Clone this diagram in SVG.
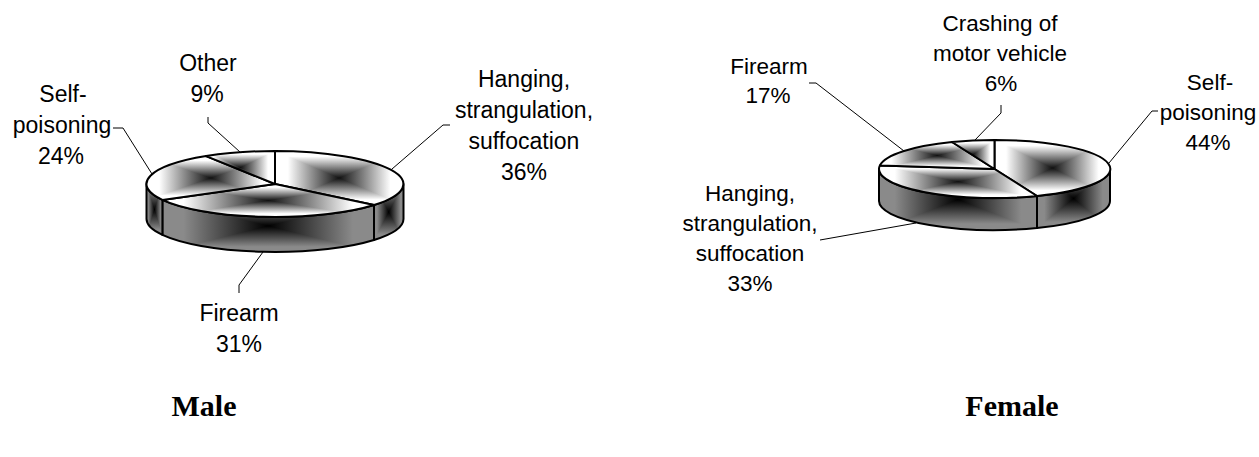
<svg xmlns="http://www.w3.org/2000/svg" width="1259" height="457" viewBox="0 0 1259 457">
<style>
.bg{fill:#fff}
.iso{isolation:isolate}
.lt{mix-blend-mode:lighten}
.ol{fill:none;stroke:#000;stroke-width:2;stroke-linejoin:round}
.ld{fill:none;stroke:#000;stroke-width:1}
.lm{font-family:"Liberation Sans",Arial,sans-serif;font-size:23px;fill:#000;text-anchor:middle}
.lf{font-family:"Liberation Sans",Arial,sans-serif;font-size:22.5px;fill:#000;text-anchor:middle}
.tt{font-family:"Liberation Serif","Times New Roman",serif;font-size:30px;font-weight:bold;fill:#000;text-anchor:middle}
</style>
<defs>
<linearGradient id="tH" x1="0" y1="0" x2="1" y2="0"><stop offset="0" stop-color="#fff"/><stop offset="0.1" stop-color="#fff"/><stop offset="0.5" stop-color="#111"/><stop offset="0.9" stop-color="#fff"/><stop offset="1" stop-color="#fff"/></linearGradient>
<linearGradient id="tV" x1="0" y1="0" x2="0" y2="1"><stop offset="0" stop-color="#fff"/><stop offset="0.1" stop-color="#fff"/><stop offset="0.5" stop-color="#111"/><stop offset="0.9" stop-color="#fff"/><stop offset="1" stop-color="#fff"/></linearGradient>
<linearGradient id="sH" x1="0" y1="0" x2="1" y2="0"><stop offset="0" stop-color="#8a8a8a"/><stop offset="0.1" stop-color="#8a8a8a"/><stop offset="0.5" stop-color="#000"/><stop offset="0.9" stop-color="#8a8a8a"/><stop offset="1" stop-color="#8a8a8a"/></linearGradient>
<linearGradient id="sV" x1="0" y1="0" x2="0" y2="1"><stop offset="0" stop-color="#8a8a8a"/><stop offset="0.1" stop-color="#8a8a8a"/><stop offset="0.5" stop-color="#000"/><stop offset="0.9" stop-color="#8a8a8a"/><stop offset="1" stop-color="#8a8a8a"/></linearGradient>
</defs>
<rect class="bg" x="0" y="0" width="1259" height="457"/>

<!-- MALE -->
<g id="male-hanging">
 <g class="iso"><path d="M403.5,184 A128.5,33 0 0 1 374,205 L374,240 A128.5,33 0 0 0 403.5,219 Z" fill="url(#sH)"/><path d="M403.5,184 A128.5,33 0 0 1 374,205 L374,240 A128.5,33 0 0 0 403.5,219 Z" fill="url(#sV)" class="lt"/></g>
 <path class="ol" d="M403.5,184 A128.5,33 0 0 1 374,205 L374,240 A128.5,33 0 0 0 403.5,219 Z"/>
 <g class="iso"><path d="M275,184 L275,151 A128.5,33 0 0 1 374,205 Z" fill="url(#tH)"/><path d="M275,184 L275,151 A128.5,33 0 0 1 374,205 Z" fill="url(#tV)" class="lt"/></g>
 <path class="ol" d="M275,184 L275,151 A128.5,33 0 0 1 374,205 Z"/>
 <text class="lm" x="524" y="87">Hanging,</text>
 <text class="lm" x="524" y="118">strangulation,</text>
 <text class="lm" x="524" y="149">suffocation</text>
 <text class="lm" x="524" y="180">36%</text>
</g>
<g id="male-firearm">
 <g class="iso"><path d="M374,205 A128.5,33 0 0 1 162.4,199.9 L162.4,234.9 A128.5,33 0 0 0 374,240 Z" fill="url(#sH)"/><path d="M374,205 A128.5,33 0 0 1 162.4,199.9 L162.4,234.9 A128.5,33 0 0 0 374,240 Z" fill="url(#sV)" class="lt"/></g>
 <path class="ol" d="M374,205 A128.5,33 0 0 1 162.4,199.9 L162.4,234.9 A128.5,33 0 0 0 374,240 Z"/>
 <g class="iso"><path d="M275,184 L374,205 A128.5,33 0 0 1 162.4,199.9 Z" fill="url(#tH)"/><path d="M275,184 L374,205 A128.5,33 0 0 1 162.4,199.9 Z" fill="url(#tV)" class="lt"/></g>
 <path class="ol" d="M275,184 L374,205 A128.5,33 0 0 1 162.4,199.9 Z"/>
 <text class="lm" x="239" y="321">Firearm</text>
 <text class="lm" x="239" y="352">31%</text>
</g>
<g id="male-selfpoisoning">
 <g class="iso"><path d="M162.4,199.9 A128.5,33 0 0 1 146.5,184 L146.5,219 A128.5,33 0 0 0 162.4,234.9 Z" fill="url(#sH)"/><path d="M162.4,199.9 A128.5,33 0 0 1 146.5,184 L146.5,219 A128.5,33 0 0 0 162.4,234.9 Z" fill="url(#sV)" class="lt"/></g>
 <path class="ol" d="M162.4,199.9 A128.5,33 0 0 1 146.5,184 L146.5,219 A128.5,33 0 0 0 162.4,234.9 Z"/>
 <g class="iso"><path d="M275,184 L162.4,199.9 A128.5,33 0 0 1 206.1,156.1 Z" fill="url(#tH)"/><path d="M275,184 L162.4,199.9 A128.5,33 0 0 1 206.1,156.1 Z" fill="url(#tV)" class="lt"/></g>
 <path class="ol" d="M275,184 L162.4,199.9 A128.5,33 0 0 1 206.1,156.1 Z"/>
 <text class="lm" x="63" y="102">Self-</text>
 <text class="lm" x="62" y="133">poisoning</text>
 <text class="lm" x="61" y="164">24%</text>
</g>
<g id="male-other">
 <g class="iso"><path d="M275,184 L206.1,156.1 A128.5,33 0 0 1 275,151 Z" fill="url(#tH)"/><path d="M275,184 L206.1,156.1 A128.5,33 0 0 1 275,151 Z" fill="url(#tV)" class="lt"/></g>
 <path class="ol" d="M275,184 L206.1,156.1 A128.5,33 0 0 1 275,151 Z"/>
 <text class="lm" x="208" y="71">Other</text>
 <text class="lm" x="207" y="102">9%</text>
</g>
<g id="male-title"><text class="tt" x="204" y="416">Male</text></g>

<!-- FEMALE -->
<g id="female-selfpoisoning">
 <g class="iso"><path d="M1110,169 A115.5,29 0 0 1 1037,196 L1037,228 A115.5,29 0 0 0 1110,201 Z" fill="url(#sH)"/><path d="M1110,169 A115.5,29 0 0 1 1037,196 L1037,228 A115.5,29 0 0 0 1110,201 Z" fill="url(#sV)" class="lt"/></g>
 <path class="ol" d="M1110,169 A115.5,29 0 0 1 1037,196 L1037,228 A115.5,29 0 0 0 1110,201 Z"/>
 <g class="iso"><path d="M994.5,169 L994.5,140 A115.5,29 0 0 1 1037,196 Z" fill="url(#tH)"/><path d="M994.5,169 L994.5,140 A115.5,29 0 0 1 1037,196 Z" fill="url(#tV)" class="lt"/></g>
 <path class="ol" d="M994.5,169 L994.5,140 A115.5,29 0 0 1 1037,196 Z"/>
 <text class="lf" x="1210" y="90">Self-</text>
 <text class="lf" x="1208" y="120">poisoning</text>
 <text class="lf" x="1208" y="150">44%</text>
</g>
<g id="female-hanging">
 <g class="iso"><path d="M1037,196 A115.5,29 0 0 1 879,169 L879,201 A115.5,29 0 0 0 1037,228 Z" fill="url(#sH)"/><path d="M1037,196 A115.5,29 0 0 1 879,169 L879,201 A115.5,29 0 0 0 1037,228 Z" fill="url(#sV)" class="lt"/></g>
 <path class="ol" d="M1037,196 A115.5,29 0 0 1 879,169 L879,201 A115.5,29 0 0 0 1037,228 Z"/>
 <g class="iso"><path d="M994.5,169 L1037,196 A115.5,29 0 0 1 879.9,165.4 Z" fill="url(#tH)"/><path d="M994.5,169 L1037,196 A115.5,29 0 0 1 879.9,165.4 Z" fill="url(#tV)" class="lt"/></g>
 <path class="ol" d="M994.5,169 L1037,196 A115.5,29 0 0 1 879.9,165.4 Z"/>
 <text class="lf" x="750" y="201">Hanging,</text>
 <text class="lf" x="750" y="231">strangulation,</text>
 <text class="lf" x="750" y="261">suffocation</text>
 <text class="lf" x="750" y="291">33%</text>
</g>
<g id="female-firearm">
 <g class="iso"><path d="M994.5,169 L879.9,165.4 A115.5,29 0 0 1 952,142 Z" fill="url(#tH)"/><path d="M994.5,169 L879.9,165.4 A115.5,29 0 0 1 952,142 Z" fill="url(#tV)" class="lt"/></g>
 <path class="ol" d="M994.5,169 L879.9,165.4 A115.5,29 0 0 1 952,142 Z"/>
 <text class="lf" x="769" y="74">Firearm</text>
 <text class="lf" x="768" y="103">17%</text>
</g>
<g id="female-crashing">
 <g class="iso"><path d="M994.5,169 L952,142 A115.5,29 0 0 1 994.5,140 Z" fill="url(#tH)"/><path d="M994.5,169 L952,142 A115.5,29 0 0 1 994.5,140 Z" fill="url(#tV)" class="lt"/></g>
 <path class="ol" d="M994.5,169 L952,142 A115.5,29 0 0 1 994.5,140 Z"/>
 <text class="lf" x="1000" y="31">Crashing of</text>
 <text class="lf" x="1000" y="61">motor vehicle</text>
 <text class="lf" x="1001" y="91">6%</text>
</g>
<g id="female-title"><text class="tt" x="1012" y="416">Female</text></g>

<g id="connectors">
 <path class="ld" d="M450,125 L443,125 L392,169"/>
 <path class="ld" d="M208,117 L208,123 L240,152"/>
 <path class="ld" d="M113,128 L123,128 L152,174"/>
 <path class="ld" d="M263,252 L239,285 L239,293"/>
 <path class="ld" d="M809,83 L816,83 L904,151"/>
 <path class="ld" d="M1001,105 L1001,113 L975,140"/>
 <path class="ld" d="M1158,111 L1152,111 L1109,163"/>
 <path class="ld" d="M820,240 L916,223"/>
</g>
</svg>
